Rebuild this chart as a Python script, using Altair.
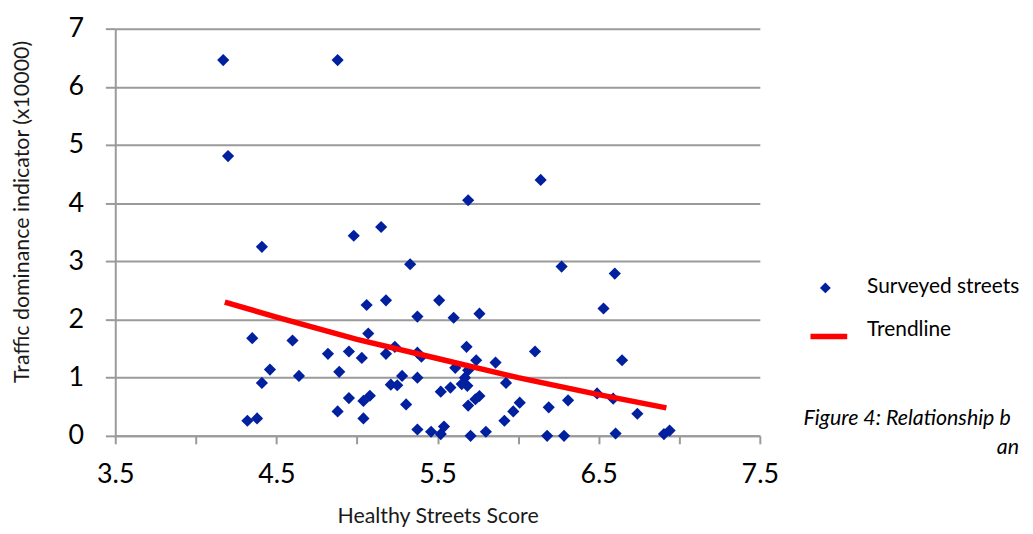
import altair as alt
import pandas as pd

# Healthy Streets Score of each surveyed street
score = [
    4.17, 4.88, 4.20, 5.69, 6.14, 4.41, 4.98, 5.15, 5.33, 6.27,
    6.60, 5.06, 5.18, 5.51, 5.375, 5.60, 5.76, 6.53, 4.35, 4.60,
    5.07, 4.82, 4.95, 5.03, 5.18, 5.235, 5.375, 5.40, 5.68, 6.105,
    5.74, 5.86, 6.645, 5.61, 5.69, 4.46, 4.41, 4.64, 4.89, 5.28,
    5.375, 5.67, 5.21, 5.25, 5.65, 5.685, 5.58, 5.52, 5.925, 4.95,
    5.08, 5.04, 5.305, 5.76, 5.735, 5.69, 6.01, 5.97, 5.915, 6.19,
    6.31, 6.49, 6.59, 6.74, 4.88, 5.04, 4.32, 4.38, 5.375, 5.46,
    5.54, 5.52, 5.705, 5.80, 6.18, 6.285, 6.605, 6.905, 6.94,
]
# Traffic dominance indicator (x10000)
traffic = [
    6.46, 6.46, 4.81, 4.05, 4.40, 3.25, 3.44, 3.59, 2.95, 2.91,
    2.79, 2.25, 2.33, 2.33, 2.05, 2.03, 2.10, 2.19, 1.68, 1.64,
    1.76, 1.41, 1.45, 1.34, 1.41, 1.53, 1.43, 1.36, 1.53, 1.45,
    1.30, 1.26, 1.30, 1.17, 1.13, 1.14, 0.91, 1.03, 1.10, 1.03,
    1.00, 1.00, 0.88, 0.87, 0.89, 0.86, 0.83, 0.76, 0.91, 0.65,
    0.69, 0.60, 0.54, 0.685, 0.63, 0.52, 0.57, 0.42, 0.26, 0.49,
    0.61, 0.73, 0.64, 0.38, 0.42, 0.30, 0.26, 0.30, 0.11, 0.07,
    0.16, 0.03, 0.00, 0.07, 0.00, 0.00, 0.04, 0.03, 0.09,
]

# trendline
trend_score = [4.18, 4.5, 5.0, 5.5, 6.0, 6.5, 6.92]
trend_traffic = [2.30, 2.04, 1.66, 1.33, 1.00, 0.71, 0.48]

x_ticks = [3.5, 4.0, 4.5, 5.0, 5.5, 6.0, 6.5, 7.0, 7.5]
y_ticks = [0, 1, 2, 3, 4, 5, 6, 7]

legend_labels = ["Surveyed streets", "Trendline"]
caption_lines = ["Figure 4: Relationship b", "an"]

BLUE = "#0020a0"
RED = "#ff0000"
GREY = "#9a9a9a"
FONT = "Lato"

points = pd.DataFrame({"score": score, "traffic": traffic})
trend = pd.DataFrame({"score": trend_score, "traffic": trend_traffic})

x_enc = alt.X(
    "score:Q",
    scale=alt.Scale(domain=[3.5, 7.5], nice=False, zero=False),
    axis=alt.Axis(
        values=x_ticks,
        labelExpr="datum.value % 1 == 0.5 ? datum.label : ''",
        grid=False,
        tickSize=8,
        labelPadding=18,
        title="Healthy Streets Score",
        titleY=81,
        titleBaseline="middle",
    ),
)
y_enc = alt.Y(
    "traffic:Q",
    scale=alt.Scale(domain=[0, 7], nice=False),
    axis=alt.Axis(
        values=y_ticks,
        format="d",
        grid=True,
        tickSize=10,
        labelPadding=22,
        title="Traffic dominance indicator (x10000)",
        titleX=-93,
        titleY=184,
        titleBaseline="middle",
        titleAlign="center",
    ),
)

scatter = alt.Chart(points).mark_point(
    shape="diamond", filled=True, size=150, color=BLUE, opacity=1
).encode(x=x_enc, y=y_enc)

trendline = alt.Chart(trend).mark_line(
    color=RED, strokeWidth=5.5
).encode(x="score:Q", y="traffic:Q")

# hand-made legend to the right of the plot
legend_diamond = alt.Chart(pd.DataFrame({"label": [legend_labels[0]]})).mark_point(
    shape="diamond", filled=True, size=120, color=BLUE, opacity=1
).encode(x=alt.value(715), y=alt.value(261))
legend_line = alt.Chart(pd.DataFrame({"label": [legend_labels[1]]})).mark_rule(
    color=RED, strokeWidth=5.5
).encode(x=alt.value(700), x2=alt.value(737), y=alt.value(310))
legend_text = alt.Chart(pd.DataFrame({"label": legend_labels, "ypos": [260, 303]})).mark_text(
    align="left", baseline="middle", font=FONT, fontSize=21, color="#000000"
).encode(x=alt.value(757), y=alt.Y("ypos:Q", scale=None), text="label:N")

caption_1 = alt.Chart(pd.DataFrame({"t": [caption_lines[0]]})).mark_text(
    align="left", baseline="middle", font=FONT, fontSize=21.5, fontStyle="italic", color="#000000"
).encode(x=alt.value(693), y=alt.value(393), text="t:N")
caption_2 = alt.Chart(pd.DataFrame({"t": [caption_lines[1]]})).mark_text(
    align="right", baseline="middle", font=FONT, fontSize=21.5, fontStyle="italic", color="#000000"
).encode(x=alt.value(910), y=alt.value(422), text="t:N")

chart = alt.layer(
    scatter, trendline, legend_diamond, legend_line, legend_text, caption_1, caption_2
).properties(
    width=649,
    height=410,
    padding={"left": 108, "top": 19, "right": 267, "bottom": 95},
    autosize=alt.AutoSizeParams(type="none"),
    background="#ffffff",
).configure_view(
    strokeWidth=0
).configure_axis(
    labelFont=FONT,
    labelFontSize=27,
    labelColor="#000000",
    titleFont=FONT,
    titleFontSize=21.5,
    titleFontWeight="normal",
    titleColor="#1a1a1a",
    domainColor=GREY,
    domainWidth=2,
    tickColor=GREY,
    tickWidth=2,
    gridColor=GREY,
    gridWidth=2,
    labelFlush=False,
)

chart.save("out.html", embed_options={"renderer": "svg", "actions": False})
